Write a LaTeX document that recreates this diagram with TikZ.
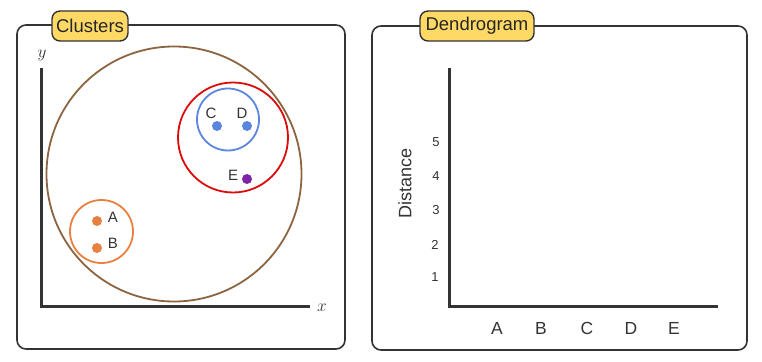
\documentclass[tikz,border=0pt]{standalone}
\usepackage{fontspec}
\setmainfont{Liberation Sans}
\definecolor{dark}{HTML}{333333}
\definecolor{tagfill}{HTML}{FFD966}
\definecolor{cbrown}{HTML}{8C6440}
\definecolor{cred}{HTML}{DD0A0A}
\definecolor{cblue}{HTML}{5B86E0}
\definecolor{corange}{HTML}{E8803F}
\definecolor{cpurple}{HTML}{7E22A8}
\begin{document}
\begin{tikzpicture}[x=1pt,y=-1pt,
  panel/.style={draw=dark,line width=1.6pt,rounded corners=9pt},
  tag/.style={draw=dark,line width=1.4pt,fill=tagfill,rounded corners=8pt,minimum height=30pt,inner sep=0pt,font=\fontsize{18.5}{18.5}\selectfont,text=black!85},
  axis/.style={draw=dark,line width=3pt},
  clus/.style={line width=1.8pt},
  dot/.style={circle,inner sep=0pt,minimum size=10pt},
  lbl/.style={inner sep=0pt,font=\fontsize{15}{15}\selectfont,text=dark},
  tick/.style={inner sep=0pt,font=\fontsize{13}{13}\selectfont,text=dark},
  leaf/.style={inner sep=0pt,font=\fontsize{17.5}{17.5}\selectfont,text=dark}]
\useasboundingbox (0,0) rectangle (762,361);
% left panel
\draw[panel] (17,25) rectangle (345,349);
\node[tag,minimum width=76pt] (t1) at (90,26) {Clusters};
\coordinate (ly) at (41,68);
\coordinate (lo) at (41,306);
\coordinate (lx) at (310,306);
\draw[axis] (ly) -- (lo) -- (lx);
\node[inner sep=0pt,font=\fontsize{17}{17}\selectfont,text=dark] (ylab) at (42,55) {$y$};
\node[inner sep=0pt,font=\fontsize{17}{17}\selectfont,text=dark] (xlab) at (322,308) {$x$};
\draw[clus,cbrown] (174,174) circle[radius=127.5];
\draw[clus,cred] (233,137.5) circle[radius=55];
\draw[clus,cblue] (228,119.5) circle[radius=31];
\draw[clus,corange] (101.5,231.5) circle[radius=31.5];
\node[dot,fill=cblue] (c) at (217,126) {};
\node[dot,fill=cblue] (d) at (247,126) {};
\node[dot,fill=cpurple] (e) at (247,179) {};
\node[dot,fill=corange] (a) at (97,221) {};
\node[dot,fill=corange] (b) at (97,248) {};
\node[lbl] (cl) at (211,113) {C};
\node[lbl] (dl) at (242,113) {D};
\node[lbl] (el) at (233,175) {E};
\node[lbl] (al) at (113,217) {A};
\node[lbl] (bl) at (113,243) {B};
% right panel
\draw[panel] (372,26) rectangle (747,350);
\node[tag,minimum width=114pt] (t2) at (477,26) {Dendrogram};
\coordinate (ry) at (449,68);
\coordinate (ro) at (449,306);
\coordinate (rx) at (718,306);
\draw[axis] (ry) -- (ro) -- (rx);
\node[inner sep=0pt,rotate=90,font=\fontsize{18}{18}\selectfont,text=dark] (dist) at (405,183) {Distance};
\node[tick] (t5) at (436,142) {5};
\node[tick] (t4) at (436,176) {4};
\node[tick] (t3) at (436,210) {3};
\node[tick] (t2n) at (435,245) {2};
\node[tick] (t1n) at (435,277) {1};
\node[leaf] (la) at (497,328) {A};
\node[leaf] (lb) at (541,328) {B};
\node[leaf] (lc) at (587,328) {C};
\node[leaf] (ld) at (631,328) {D};
\node[leaf] (le) at (674,328) {E};
\end{tikzpicture}
\end{document}
